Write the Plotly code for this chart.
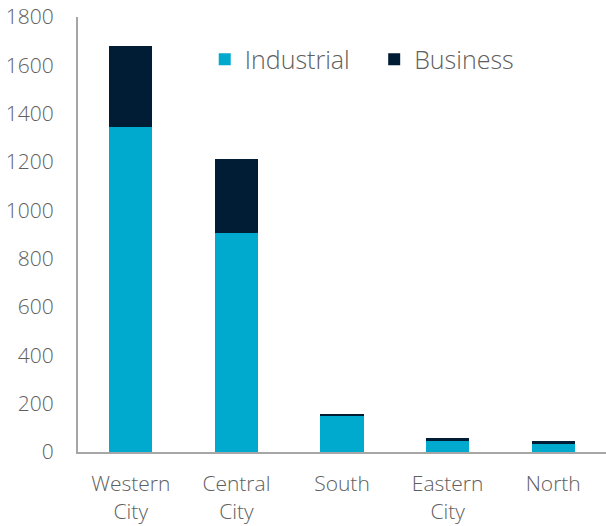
import plotly.graph_objects as go

categories = ["Western<br>City", "Central<br>City", "South", "Eastern<br>City", "North"]
industrial = [1345, 906, 150, 47, 33]
business = [335, 306, 4, 10, 12]
y_ticks = [0, 200, 400, 600, 800, 1000, 1200, 1400, 1600, 1800]

FONT = "Open Sans"
GREY = "#606060"

fig = go.Figure()
# a little padding after the first legend label widens the gap between entries
fig.add_trace(go.Bar(x=categories, y=industrial, name="Industrial\u00a0\u00a0\u00a0",
                     marker=dict(color="#00A9CE", line=dict(width=0))))
fig.add_trace(go.Bar(x=categories, y=business, name="Business",
                     marker=dict(color="#001D35", line=dict(width=0))))

fig.update_layout(
    width=606, height=526,
    barmode="stack", bargap=0.59,
    margin=dict(l=78, r=0, t=17, b=74),
    plot_bgcolor="white", paper_bgcolor="white",
    font=dict(family=FONT, color=GREY, size=21),
    showlegend=True,
    legend=dict(orientation="h", x=0.24, y=0.955, xanchor="left", yanchor="top",
                font=dict(size=25, color=GREY, weight=300), itemwidth=30,
                traceorder="normal", bgcolor="rgba(0,0,0,0)"),
    xaxis=dict(showline=True, linecolor="#A6A6A6", linewidth=2,
               ticks="", ticklabelstandoff=12,
               tickfont=dict(size=21, color=GREY, weight=300)),
    yaxis=dict(range=[0, 1800], tickvals=y_ticks, showgrid=False,
               showline=True, linecolor="#A6A6A6", linewidth=2,
               ticks="", zeroline=False, ticklabelstandoff=18,
               tickfont=dict(size=21, color=GREY, weight=300)),
)

fig.write_html("out.html")
